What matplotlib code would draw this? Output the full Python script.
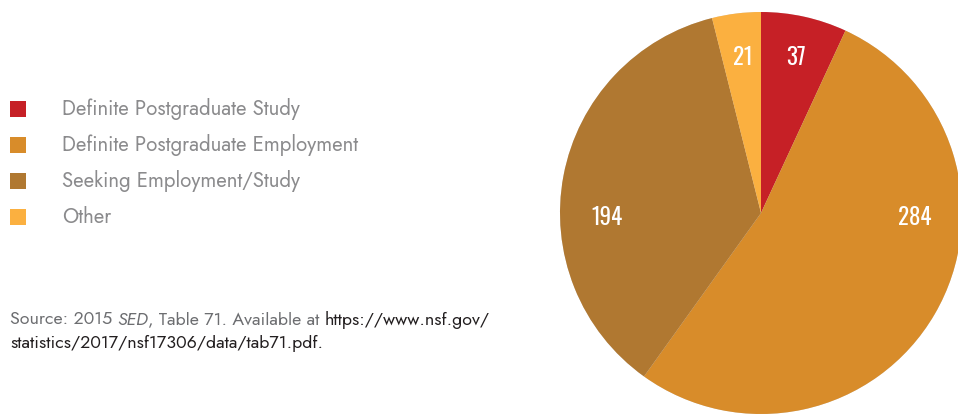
import matplotlib.pyplot as plt
from matplotlib.patches import Rectangle

categories = ["Definite Postgraduate Study", "Definite Postgraduate Employment",
              "Seeking Employment/Study", "Other"]
counts = [37, 284, 194, 21]
colors = ["#C62026", "#D88C2A", "#B07831", "#FBB040"]

W, H = 958, 417
fig = plt.figure(figsize=(W / 100, H / 100), dpi=100)
ax = fig.add_axes([0, 0, 1, 1])

# pie, drawn in pixel coords, clockwise from 12 o'clock
cx, cy, r = 761, 204, 201
wedges, _ = ax.pie(counts, colors=colors, startangle=90, counterclock=False,
                   center=(cx, cy), radius=r, frame=True,
                   wedgeprops=dict(linewidth=0),
                   shadow=dict(ox=0.012, oy=-0.012, facecolor="#b8b8b8",
                               edgecolor="none", alpha=0.6))
ax.set_xlim(0, W)
ax.set_ylim(0, H)
ax.axis("off")

# hand-placed value labels (fraction of radius)
lab_pos = [(0.174, 0.776), (0.766, -0.02), (-0.766, -0.02), (-0.09, 0.776)]
for v, (dx, dy) in zip(counts, lab_pos):
    ax.text(cx + dx * r, cy + dy * r, str(v), ha="center", va="center",
            color="white", fontsize=16.5, family="Oswald")

# legend
leg_y = [308, 272, 236, 200]
for lab, c, y in zip(categories, colors, leg_y):
    ax.add_patch(Rectangle((10, y - 8), 16, 16, color=c, lw=0))
    ax.text(62, y, lab, ha="left", va="center", fontsize=14.7, color="#8b8b8d",
            family="Jost")

# source note, built from pieces
renderer = fig.canvas.get_renderer()
pieces = [("Source: 2015 ", "normal", "#6d6e71"),
          ("SED", "italic", "#6d6e71"),
          (", Table 71. Available at ", "normal", "#6d6e71"),
          ("https://www.nsf.gov/", "normal", "#231f20")]
x = 10
for txt, st, c in pieces:
    t = ax.text(x, 97, txt, ha="left", va="center", fontsize=12.8, color=c,
                style=st, family="Jost")
    bb = t.get_window_extent(renderer)
    x = bb.x1
ax.text(10, 74, "statistics/2017/nsf17306/data/tab71.pdf.", ha="left",
        va="center", fontsize=12.8, color="#231f20", family="Jost")

fig.savefig("out.png", dpi=100)
